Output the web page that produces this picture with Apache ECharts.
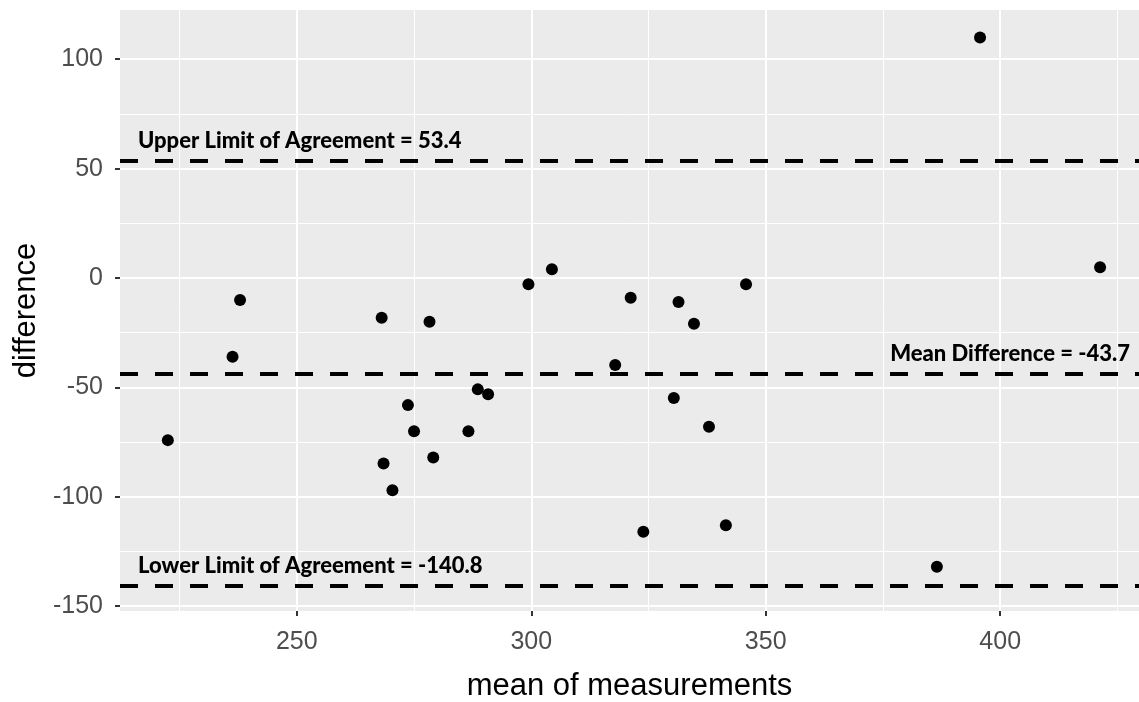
<!DOCTYPE html>
<html><head><meta charset="utf-8">
<script src="https://cdn.jsdelivr.net/npm/echarts@6/dist/echarts.min.js"></script>
<style>html,body{margin:0;padding:0;background:#fff}#c{width:1139px;height:702px}</style>
</head><body><div id="c"></div>
<script>
const meanMeasurements = [222.5, 236.3, 237.9, 268.1, 268.5, 270.4, 273.7, 275.0, 278.3, 279.1, 286.6, 288.6, 290.8, 299.4, 304.4, 317.9, 321.2, 323.9, 330.4, 331.4, 334.7, 337.9, 341.5, 345.8, 386.5, 395.7, 421.3];
const differences =      [-74.1, -36.0, -10.1, -18.2, -84.8, -97.0, -58.1, -70.0, -20.0, -82.0, -70.0, -50.9, -53.1, -2.9, 4.0, -39.8, -9.0, -116.0, -54.8, -11.0, -20.9, -68.0, -113.0, -2.9, -132.0, 109.9, 4.9];
const xMajorTicks = [250, 300, 350, 400];
const xMinorTicks = [225, 275, 325, 375, 425];
const yMajorTicks = [-150, -100, -50, 0, 50, 100];
const yMinorTicks = [-125, -75, -25, 25, 75];
const limitValues = [53.4, -43.7, -140.8];
const limitLabels = ['Upper Limit of Agreement = 53.4', 'Mean Difference = -43.7', 'Lower Limit of Agreement = -140.8'];

const X_MIN = 212.3, X_MAX = 429.6, Y_MIN = -152.2, Y_MAX = 122.5;
const labelColor = '#4D4D4D';
const tickFont = 'Liberation Sans';

const chart = echarts.init(document.getElementById('c'), null, {renderer: 'canvas'});
const points = meanMeasurements.map((x, i) => [x, differences[i]]);

chart.setOption({
  animation: false,
  backgroundColor: '#ffffff',
  grid: {left: 120, top: 10, right: 0, bottom: 91, show: true, backgroundColor: '#EBEBEB', borderWidth: 0,
         containLabel: false, outerBoundsMode: 'none'},
  xAxis: [
    {
      type: 'value', min: X_MIN, max: X_MAX, position: 'bottom',
      name: 'mean of measurements', nameLocation: 'middle', nameGap: 60,
      nameTextStyle: {fontFamily: tickFont, fontSize: 31, color: '#000'},
      axisLine: {show: false, onZero: false},
      axisTick: {show: true, length: 5, lineStyle: {color: '#333', width: 2}, customValues: xMajorTicks},
      axisLabel: {customValues: xMajorTicks, color: labelColor, fontFamily: tickFont, fontSize: 25, margin: 19},
      splitLine: {show: true, lineStyle: {color: '#ffffff', width: 2}}
    },
    {
      type: 'value', min: X_MIN, max: X_MAX, position: 'bottom',
      axisLine: {show: false, onZero: false},
      axisTick: {show: false, customValues: xMinorTicks},
      axisLabel: {show: false, customValues: xMinorTicks},
      splitLine: {show: true, lineStyle: {color: '#ffffff', width: 1}}
    }
  ],
  yAxis: [
    {
      type: 'value', min: Y_MIN, max: Y_MAX, position: 'left',
      name: 'difference', nameLocation: 'middle', nameGap: 76, nameRotate: 90,
      nameTextStyle: {fontFamily: tickFont, fontSize: 31, color: '#000'},
      axisLine: {show: false, onZero: false},
      axisTick: {show: true, length: 5, lineStyle: {color: '#333', width: 2}, customValues: yMajorTicks},
      axisLabel: {customValues: yMajorTicks, color: labelColor, fontFamily: tickFont, fontSize: 25, margin: 17},
      splitLine: {show: true, lineStyle: {color: '#ffffff', width: 2}}
    },
    {
      type: 'value', min: Y_MIN, max: Y_MAX, position: 'left',
      axisLine: {show: false, onZero: false},
      axisTick: {show: false, customValues: yMinorTicks},
      axisLabel: {show: false, customValues: yMinorTicks},
      splitLine: {show: true, lineStyle: {color: '#ffffff', width: 1}}
    }
  ],
  series: [
    {
      type: 'line', xAxisIndex: 0, yAxisIndex: 0, data: [], z: 2,
      markLine: {
        silent: true, symbol: ['none', 'none'], animation: false,
        lineStyle: {color: '#000', width: 4, type: [18, 17], opacity: 1},
        data: limitValues.map((v, i) => ({
          yAxis: v,
          label: {
            show: true,
            formatter: limitLabels[i],
            position: i === 1 ? 'insideEndTop' : 'insideStartTop',
            distance: i === 1 ? [9, 9] : [18, 9],
            fontFamily: 'Lato', fontWeight: 900, fontSize: 22, color: '#000'
          }
        }))
      }
    },
    {
      type: 'scatter', xAxisIndex: 0, yAxisIndex: 0, z: 3,
      symbol: 'circle', symbolSize: 12,
      itemStyle: {color: '#000', opacity: 1},
      data: points
    }
  ]
});
</script></body></html>
